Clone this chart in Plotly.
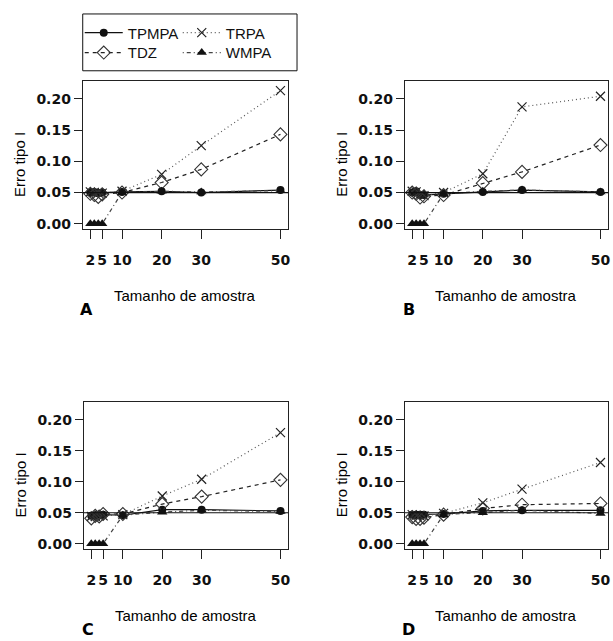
import plotly.graph_objects as go

W, H = 613, 641

# ---------------- data ----------------
sample_sizes = [2, 3, 4, 5, 10, 20, 30, 50]
x_tick_vals = [2, 5, 10, 20, 30, 50]
y_tick_vals = [0.00, 0.05, 0.10, 0.15, 0.20]
y_tick_text = ["0.00", "0.05", "0.10", "0.15", "0.20"]
panel_labels = ["A", "B", "C", "D"]
series_names = ["TPMPA", "TRPA", "TDZ", "WMPA"]

tpmpa_A = [0.050, 0.051, 0.049, 0.050, 0.051, 0.052, 0.050, 0.054]
trpa_A = [0.051, 0.050, 0.049, 0.049, 0.052, 0.079, 0.125, 0.213]
tdz_A = [0.048, 0.046, 0.043, 0.047, 0.050, 0.066, 0.087, 0.143]
wmpa_A = [0.000, 0.000, 0.000, 0.000, 0.050, 0.052, 0.051, 0.053]

tpmpa_B = [0.050, 0.052, 0.046, 0.046, 0.048, 0.051, 0.054, 0.051]
trpa_B = [0.052, 0.051, 0.047, 0.045, 0.050, 0.080, 0.187, 0.204]
tdz_B = [0.050, 0.048, 0.042, 0.044, 0.046, 0.065, 0.083, 0.126]
wmpa_B = [0.000, 0.000, 0.000, 0.000, 0.048, 0.052, 0.054, 0.051]

tpmpa_C = [0.045, 0.046, 0.047, 0.047, 0.046, 0.055, 0.055, 0.053]
trpa_C = [0.044, 0.044, 0.046, 0.045, 0.047, 0.077, 0.104, 0.179]
tdz_C = [0.041, 0.045, 0.044, 0.048, 0.048, 0.064, 0.076, 0.103]
wmpa_C = [0.000, 0.000, 0.000, 0.000, 0.046, 0.051, 0.054, 0.052]

tpmpa_D = [0.047, 0.047, 0.047, 0.047, 0.048, 0.053, 0.054, 0.054]
trpa_D = [0.047, 0.046, 0.045, 0.045, 0.049, 0.066, 0.088, 0.131]
tdz_D = [0.043, 0.040, 0.040, 0.042, 0.047, 0.057, 0.063, 0.065]
wmpa_D = [0.000, 0.000, 0.000, 0.000, 0.047, 0.050, 0.054, 0.049]

reference_level = 0.05

panels = {
    "A": {"TPMPA": tpmpa_A, "TRPA": trpa_A, "TDZ": tdz_A, "WMPA": wmpa_A},
    "B": {"TPMPA": tpmpa_B, "TRPA": trpa_B, "TDZ": tdz_B, "WMPA": wmpa_B},
    "C": {"TPMPA": tpmpa_C, "TRPA": trpa_C, "TDZ": tdz_C, "WMPA": wmpa_C},
    "D": {"TPMPA": tpmpa_D, "TRPA": trpa_D, "TDZ": tdz_D, "WMPA": wmpa_D},
}

# ---------------- styles ----------------
styles = {
    "TPMPA": dict(line=dict(color="#111111", width=1.2, dash="solid"),
                  marker=dict(symbol="circle", size=8, color="#111111")),
    "TRPA": dict(line=dict(color="#555555", width=1.2, dash="1px,3px"),
                 marker=dict(symbol="x-thin-open", size=9, color="#222222",
                             line=dict(width=1.2, color="#222222"))),
    "TDZ": dict(line=dict(color="#222222", width=1.2, dash="4px,4px"),
                marker=dict(symbol="diamond-open", size=10, color="#333333",
                            line=dict(width=1.1, color="#333333"))),
    "WMPA": dict(line=dict(color="#444444", width=1.2, dash="1px,3px,4px,3px"),
                 marker=dict(symbol="triangle-up", size=9, color="#111111")),
}
legend_row = {"TPMPA": "legend", "TRPA": "legend", "TDZ": "legend2", "WMPA": "legend2"}

# panel boxes in pixels: (left, right, top, bottom)
boxes = {
    "A": (83, 289, 81, 230),
    "B": (406, 610, 81, 230),
    "C": (84, 289, 403, 551),
    "D": (406, 610, 403, 551),
}

def px_x(p):
    return p / W

def px_y(p):
    return 1 - p / H

fig = go.Figure()
tick_font = dict(family="DejaVu Sans", size=14, color="#111111", weight="bold")
label_font = dict(family="Liberation Sans, Arial", size=15, color="#000000")

annotations = []
shapes = []
for i, key in enumerate(panel_labels):
    n = "" if i == 0 else str(i + 1)
    l, r, t, b = boxes[key]
    xa = "xaxis" + n
    ya = "yaxis" + n
    fig.layout[xa] = dict(
        domain=[px_x(l), px_x(r)], range=[0.08, 51.92], anchor="y" + n,
        tickvals=x_tick_vals, ticktext=[str(v) for v in x_tick_vals],
        ticks="outside", ticklen=9, tickcolor="#222222", tickwidth=1,
        showline=True, linecolor="#222222", linewidth=1, mirror=True,
        showgrid=False, zeroline=False, tickfont=tick_font,
        ticklabelstandoff=9,
    )
    fig.layout[ya] = dict(
        domain=[px_y(b), px_y(t)], range=[-0.0088, 0.2288], anchor="x" + n,
        tickvals=y_tick_vals, ticktext=y_tick_text,
        ticks="outside", ticklen=8, tickcolor="#222222", tickwidth=1,
        showline=True, linecolor="#222222", linewidth=1, mirror=True,
        showgrid=False, zeroline=False, tickfont=tick_font,
    )
    shapes.append(dict(type="line", xref="x" + n + " domain", yref="y" + n,
                       x0=0, x1=1, y0=reference_level, y1=reference_level,
                       line=dict(color="#111111", width=1.2)))
    for name in series_names:
        st = styles[name]
        fig.add_trace(go.Scatter(
            x=sample_sizes, y=panels[key][name], mode="lines+markers",
            name=name, line=st["line"], marker=st["marker"],
            xaxis="x" + n, yaxis="y" + n, showlegend=(i == 0),
            legend=legend_row[name], cliponaxis=False,
        ))
    cx = (l + r) / 2
    annotations.append(dict(text="Tamanho de amostra", x=px_x(cx), y=px_y(b + 66),
                            xref="paper", yref="paper", showarrow=False,
                            font=label_font, xanchor="center", yanchor="middle"))
    annotations.append(dict(text="Erro tipo I", x=px_x(l - 63), y=px_y((t + b) / 2 + 9),
                            xref="paper", yref="paper", showarrow=False, textangle=-90,
                            font=label_font, xanchor="center", yanchor="middle"))
    annotations.append(dict(text="<b>" + key + "</b>", x=px_x(l + 4), y=px_y(b + 80),
                            xref="paper", yref="paper", showarrow=False,
                            font=dict(family="DejaVu Sans", size=16, color="#000000", weight="bold"),
                            xanchor="center", yanchor="middle"))

# legend frame
shapes.append(dict(type="rect", xref="paper", yref="paper",
                   x0=px_x(83), x1=px_x(298), y0=px_y(71), y1=px_y(14),
                   line=dict(color="#111111", width=1), fillcolor="rgba(0,0,0,0)"))

legend_common = dict(
    orientation="h", xanchor="left", yanchor="middle",
    borderwidth=0, bgcolor="rgba(0,0,0,0)",
    entrywidth=45, entrywidthmode="pixels", traceorder="normal",
    font=dict(family="Liberation Sans, Arial", size=15, color="#111111"),
    itemwidth=38,
)

fig.update_layout(
    width=W, height=H, margin=dict(l=0, r=0, t=0, b=0),
    paper_bgcolor="white", plot_bgcolor="white",
    shapes=shapes, annotations=annotations,
    legend=dict(x=px_x(80), y=px_y(33), **legend_common),
    legend2=dict(x=px_x(80), y=px_y(53), **legend_common),
)

fig.write_html("out.html")
